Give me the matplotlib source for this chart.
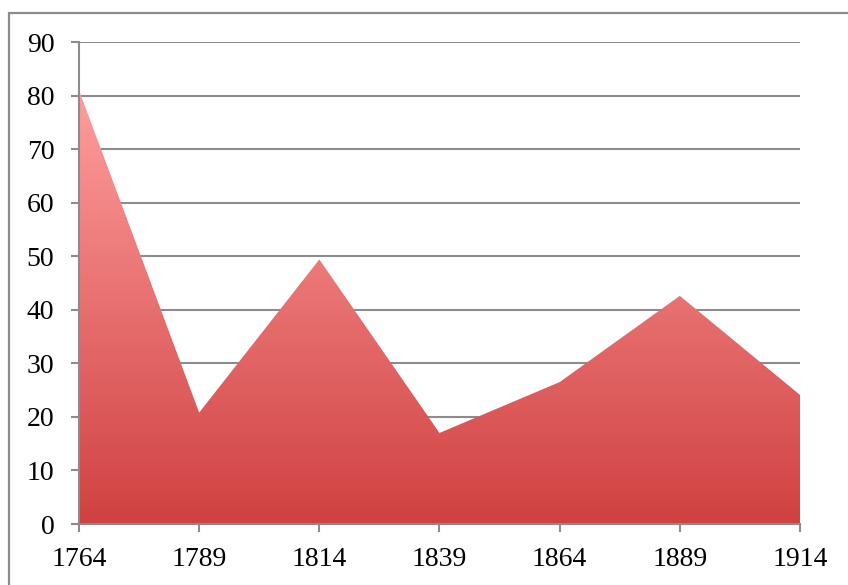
import numpy as np
import matplotlib.pyplot as plt
from matplotlib.colors import LinearSegmentedColormap
from matplotlib.patches import Rectangle, PathPatch

years = [1764, 1789, 1814, 1839, 1864, 1889, 1914]
values = [81, 20.8, 49.4, 17.0, 26.5, 42.6, 24.1]
yticks = [0, 10, 20, 30, 40, 50, 60, 70, 80, 90]

plt.rcParams['font.family'] = ['Liberation Serif', 'DejaVu Serif']

fig = plt.figure(figsize=(8.48, 5.85), dpi=100)
ax = fig.add_axes([79/848, 1 - 524/585, 721/848, 482/585])

# gray frame around the chart (runs off right/bottom like the original)
fig.patches.append(Rectangle((8.5/848, -0.1), 2, 1 - 12.5/585 + 0.1,
                             transform=fig.transFigure, fill=False,
                             edgecolor='#8c8c8c', linewidth=1.6))

ax.set_yticks(yticks)
ax.set_xticks(years)
ax.grid(axis='y', color='#8c8c8c', linewidth=1.5)
ax.set_axisbelow(True)

# gradient fill under the line
poly = ax.fill_between(years, values, 0, color='none', linewidth=0)
cmap = LinearSegmentedColormap.from_list('g', ['#d04141', '#ff9e9e'])
grad = np.linspace(0, 1, 256).reshape(-1, 1)
im = ax.imshow(grad, cmap=cmap, origin='lower', aspect='auto',
               extent=[years[0], years[-1], 0, max(values)], zorder=2)
clip = PathPatch(poly.get_paths()[0], transform=ax.transData,
                 facecolor='none', edgecolor='none')
ax.add_patch(clip)
im.set_clip_path(clip)
ax.set_xlim(years[0], years[-1])
ax.set_ylim(0, 90)

for s in ['top', 'right']:
    ax.spines[s].set_visible(False)
for s in ['left', 'bottom']:
    ax.spines[s].set_color('#8c8c8c')
    ax.spines[s].set_linewidth(1.5)
    ax.spines[s].set_zorder(3)

ax.tick_params(axis='both', colors='#8c8c8c', labelcolor='black',
               labelsize=20, length=5.8, width=1.5)
ax.tick_params(axis='y', pad=12)
ax.tick_params(axis='x', pad=11)

fig.savefig('out.png', dpi=100)
